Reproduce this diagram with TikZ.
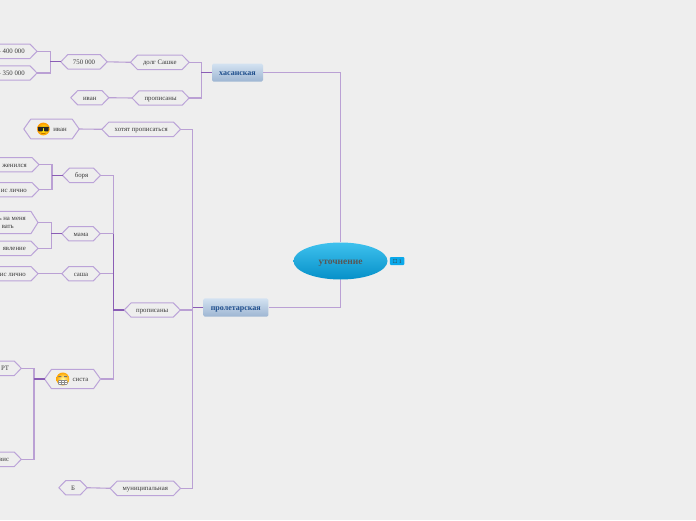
\documentclass[tikz,border=0pt]{standalone}
\usepackage{fontspec}
\setmainfont{Liberation Serif}
\newfontfamily\symfont{DejaVu Sans}
\usetikzlibrary{positioning, shapes.geometric, calc}
\definecolor{mapBack}{HTML}{EEEEEE}
\definecolor{mapLine}{HTML}{BAA0D4}
\definecolor{mapDark}{HTML}{8A5DB5}
\definecolor{mapEdge}{HTML}{BBA3D8}
\definecolor{mapText}{HTML}{3A3A3A}
\definecolor{mapBlue}{HTML}{1E4E8C}
\definecolor{rootTop}{HTML}{3EC1EE}
\definecolor{rootLow}{HTML}{0690C8}
\definecolor{tagBlue}{HTML}{0AA8EA}
\definecolor{topTop}{HTML}{D3E2F1}
\definecolor{topLow}{HTML}{9DB5D2}
\begin{document}
\begin{tikzpicture}[x=1pt, y=-1pt, font=\fontsize{6.8}{8.3}\selectfont, text=mapText,
  leaf/.style={rectangle, inner ysep=0pt, inner xsep=12pt, align=center, text height=5.2pt, text depth=0pt,
    append after command={\pgfextra{\draw[draw=mapEdge, line width=1pt, line join=round]
      (\tikzlastnode.west) -- ([xshift=7pt]\tikzlastnode.north west)
      -- ([xshift=-7pt]\tikzlastnode.north east) -- (\tikzlastnode.east)
      -- ([xshift=-7pt]\tikzlastnode.south east) -- ([xshift=7pt]\tikzlastnode.south west) -- cycle;}}},
  link/.style={draw=mapLine, line width=1.1pt},
  trunk/.style={draw=mapDark, line width=1.2pt},
  topic/.style={rectangle, rounded corners=1.5pt, top color=topTop, bottom color=topLow, inner sep=0pt,
    font=\fontsize{8}{9}\selectfont\bfseries, text=mapBlue, text height=6pt, text depth=0pt}]
\useasboundingbox[fill=mapBack] (0,0) rectangle (696,520);
\clip (0,0) rectangle (696,520);
% ---- centre
\node[ellipse, minimum width=94pt, minimum height=37pt, inner sep=0pt, top color=rootTop, bottom color=rootLow,
  font=\fontsize{9.5}{11}\selectfont\bfseries, text=mapText!85, text height=7pt, text depth=0pt] (root) at (340.5,261) {уточнение};
\node[rounded corners=1pt, fill=tagBlue, minimum width=14.5pt, minimum height=8pt, inner sep=0pt,
  font=\fontsize{5.5}{6}\selectfont, right=2pt of root] (tag) {{\symfont ☐} 1};
\node[topic, minimum width=51pt, minimum height=18pt] (hasan) at (237.5,72.7) {хасанская};
\node[topic, minimum width=65pt, minimum height=18.4pt] (prolet) at (235.8,307.5) {пролетарская};
% ---- whole nodes: name/x/y/width/height/text
\foreach \nm/\cx/\cy/\nw/\nh/\txt in {
  dolg/159.8/62.3/58.3/14/{долг Сашке}, propa/160.6/98/56.7/14/{прописаны},
  seven/84/61.8/46/14/{750 000}, ivana/89.8/97.7/37.7/14/{иван},
  hotyat/141.2/129.3/78.3/14/{хотят прописаться},
  ivanb/51.5/129/55/19.4/{\hspace*{17pt}иван},
  propb/152.2/310/55.7/14/{прописаны},
  borya/81.5/175.3/37.6/14/{боря}, mama/81/233.7/38/14/{мама}, sasha/81/273.7/38/14/{саша},
  sista/72.5/379/55.6/19/{\hspace*{16pt}систа},
  mun/145.3/488.3/70/14/{муниципальная}, bnode/73/487.7/28/14/{Б}}
  \node[leaf, inner xsep=0pt, minimum width=\nw pt, minimum height=\nh pt] (\nm) at (\cx,\cy) {\txt};
% ---- nodes cut by the left edge: name/tip x/y/height/text
\foreach \nm/\cx/\cy/\nh/\txt in {
  fourh/37/51.3/14/{- 400 000}, threeh/37/73/14/{- 350 000},
  zhen/39/164.7/14/{женился}, licha/39/189.7/14/{ис лично},
  zayav/38/248.3/14/{явление}, lichb/38/273.7/14/{ис лично},
  mft/21.3/368.3/14/{РТ}, vis/21.3/459.3/14/{вис}}
  \node[leaf, anchor=east, minimum height=\nh pt] (\nm) at (\cx,\cy) {\hspace*{70pt}\txt};
\node[leaf, anchor=east, align=right, minimum height=21.7pt, text height=13pt, text depth=1pt] (menya) at (38,222.5)
  {\hspace*{70pt}ь на меня\\[-0.6pt]вать\hspace*{12pt}};
% ---- connectors
\draw[link] (root.north) |- (hasan.east);
\draw[link] (root.south) |- (prolet.east);
\foreach \up/\kid in {hasan/dolg, hasan/propa, prolet/hotyat, prolet/propb, prolet/mun,
  seven/fourh, seven/threeh, propb/borya, propb/mama, propb/sasha, propb/sista,
  borya/zhen, borya/licha, mama/menya, mama/zayav, sista/mft, sista/vis}
  \draw[link] (\up.west) -- ++(-10.5,0) |- (\kid.east);
\foreach \up/\kid in {dolg/seven, propa/ivana, hotyat/ivanb, mun/bnode, sasha/lichb}
  \draw[link] (\up.west) -- (\kid.east);
\foreach \up in {hasan, prolet, seven, borya, mama, sista}
  \draw[trunk] (\up.west) -- ++(-10.5,0);
\coordinate (propjoin) at ($(propb.west)+(-10.5,0)$);
\draw[trunk] (propb.west) -- (propjoin) -- (propjoin |- mama.east);
% ---- faces
\shade[inner color=yellow!90!white, outer color=orange!80!yellow] (43.4,129) circle (6.4);
\fill[black!85, rounded corners=0.8pt] (37.6,126.8) rectangle (49.2,128) (38.2,127) rectangle (42.8,131.4) (44,127) rectangle (48.6,131.4);
\draw[orange!60!black, line width=0.4pt] (41,133) .. controls (42.6,134) and (44.2,134) .. (45.8,133);
\shade[inner color=yellow!35!white, outer color=orange!70!yellow] (62.8,379) circle (6.5);
\fill[black!55] (58.4,376) rectangle (61.4,377) (64.2,376) rectangle (67.2,377);
\fill[black!45, rounded corners=1pt] (58,380.2) rectangle (67.6,384.8);
\fill[white] (59,381) rectangle (66.6,384);
\draw[black!45, line width=0.3pt] (59,382.5) -- (66.6,382.5) (61.5,381) -- (61.5,384) (64,381) -- (64,384);
\end{tikzpicture}
\end{document}
